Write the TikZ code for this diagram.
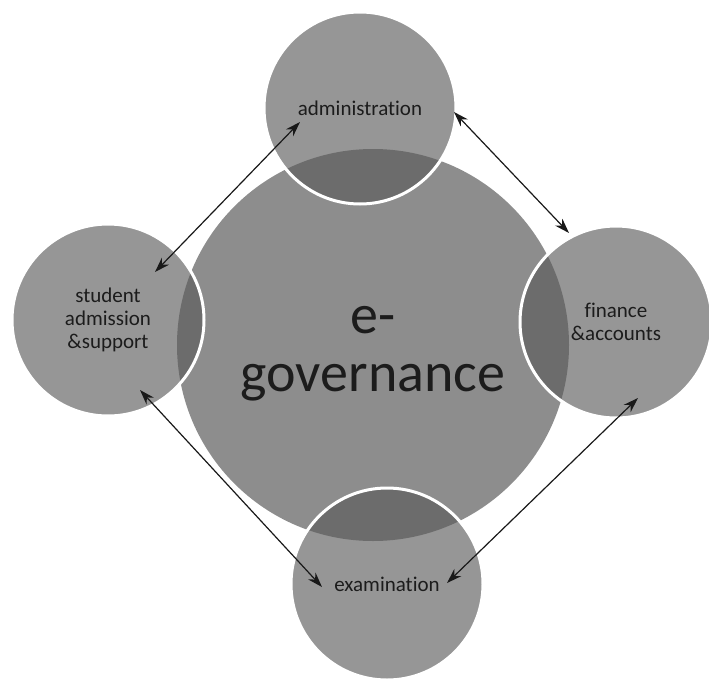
\documentclass[tikz,border=0pt]{standalone}
\usepackage{fontspec}
\setmainfont[Ligatures=CommonOff]{Carlito}
\usetikzlibrary{arrows.meta,calc}
\definecolor{hubgray}{RGB}{141,141,141}
\definecolor{satgray}{RGB}{150,150,150}
\definecolor{lapgray}{RGB}{108,108,108}
\definecolor{inkgray}{RGB}{28,28,28}
\begin{document}
\begin{tikzpicture}[x=1pt, y=-1pt, >={Stealth[length=15pt,width=10pt]},
  hub/.style={circle, fill=hubgray, minimum size=392pt, inner sep=0pt},
  sat/.style={circle, fill=satgray, minimum size=192pt, inner sep=0pt,
    text=inkgray, align=center, font=\fontsize{21}{23}\selectfont},
  govtext/.style={text=inkgray, align=center, font=\fontsize{56}{58}\selectfont},
  ring/.style={draw=white, line width=3pt},
  link/.style={<->, line width=1.2pt, black!90}]
\useasboundingbox (0,0) rectangle (709,680);
\node[hub] (gov) at (373,345) {};
\node[sat] (adm) at (360,108) {administration};
\node[sat] (stu) at (108,320) {student\\admission\\\&support};
\node[sat] (fin) at (616,322) {finance\\\&accounts};
\node[sat] (exa) at (387,584) {examination};
% darker part where the outer circles lie over the hub
\begin{scope}
\clip (gov) circle (196pt);
\foreach \s in {adm,stu,fin,exa}
  \fill[lapgray] (\s) circle (96pt);
\end{scope}
\foreach \s in {adm,stu,fin,exa}
  \draw[ring] (\s) circle (96pt);
\node[govtext] (govlabel) at ([yshift=-9pt]gov.center) {e-\\governance};
% arrow ends
\coordinate (adm-w) at ($(adm)+(-60,14)$);
\coordinate (adm-e) at ($(adm)+(94,4)$);
\coordinate (stu-n) at ($(stu)+(47,-48)$);
\coordinate (stu-s) at ($(stu)+(32,70)$);
\coordinate (fin-n) at ($(fin)+(-47,-89)$);
\coordinate (fin-s) at ($(fin)+(22,76)$);
\coordinate (exa-w) at ($(exa)+(-65,3)$);
\coordinate (exa-e) at ($(exa)+(60,-1)$);
\draw[link] (stu-n) -- (adm-w);
\draw[link] (adm-e) -- (fin-n);
\draw[link] (stu-s) -- (exa-w);
\draw[link] (fin-s) -- (exa-e);
\end{tikzpicture}
\end{document}
